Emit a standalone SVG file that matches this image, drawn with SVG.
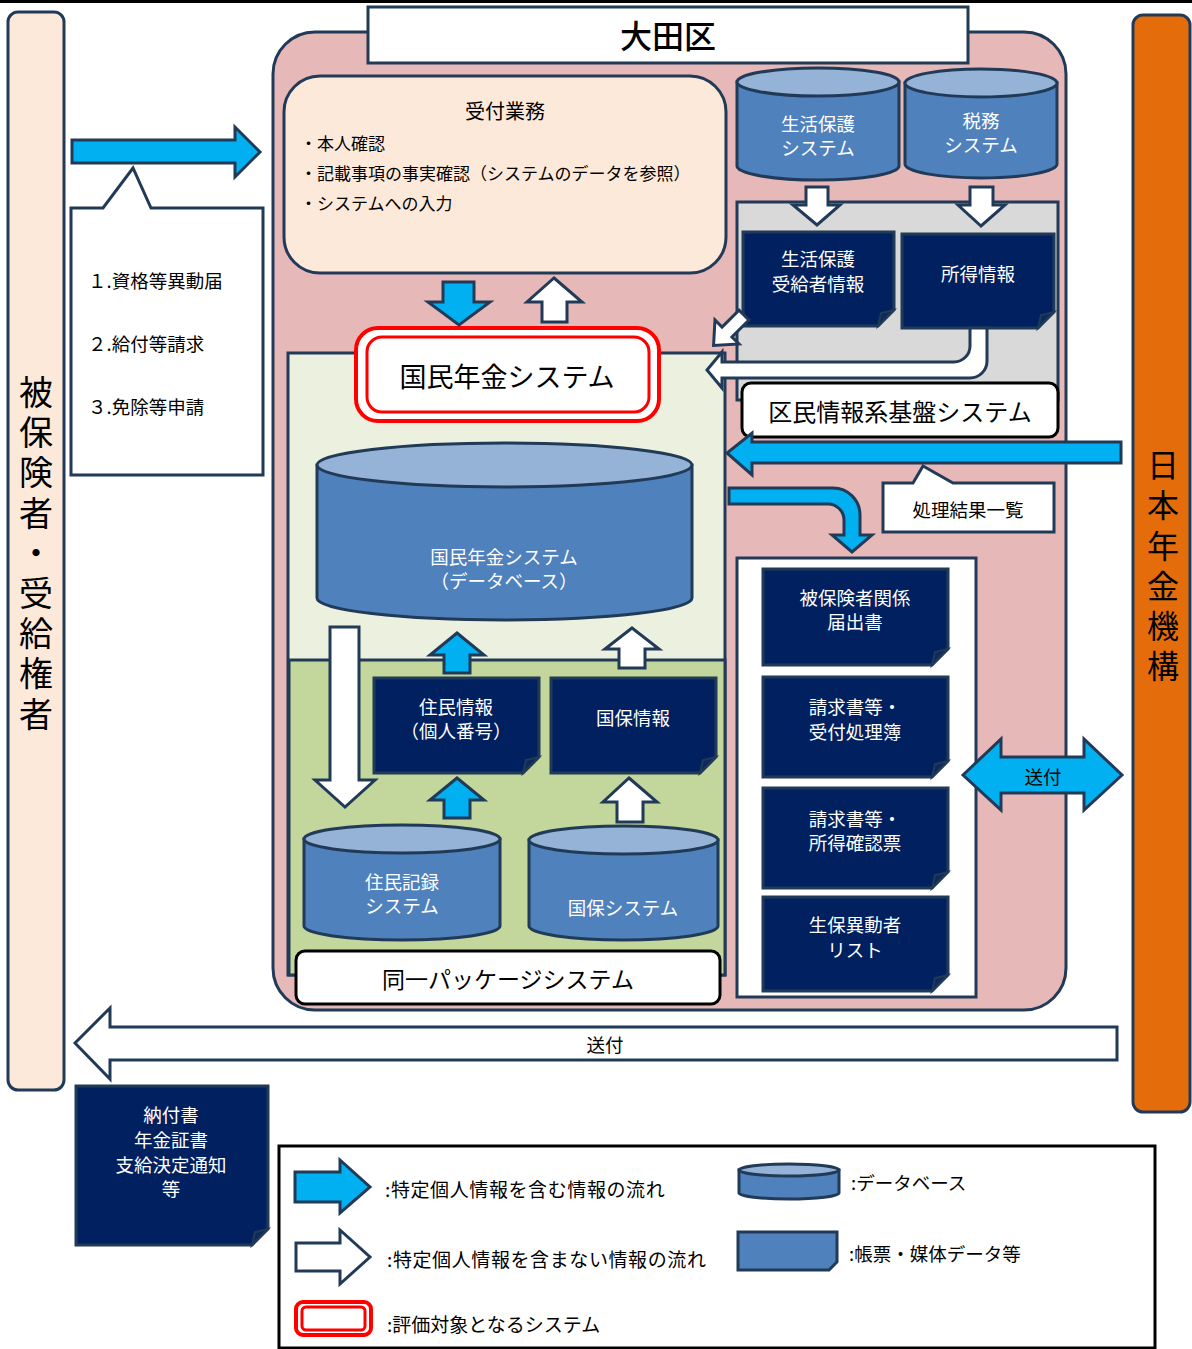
<svg xmlns="http://www.w3.org/2000/svg" width="1192" height="1349" viewBox="0 0 1192 1349">
<defs>
<style>
text{font-family:"Noto Sans CJK JP","Liberation Sans",sans-serif;dominant-baseline:central}
.c{text-anchor:middle}
.w{fill:#fff}
.k{fill:#000}
.vt{writing-mode:vertical-rl;text-orientation:upright}
.ln{stroke:#213A57;stroke-width:3}
.blue{fill:#00B0F0;stroke:#213A57;stroke-width:3;stroke-linejoin:miter}
.wh{fill:#fff;stroke:#213A57;stroke-width:3}
.doc{fill:#002060;stroke:#213A57;stroke-width:3}
.fold{fill:#0E2A5C;stroke:#213A57;stroke-width:2}
.cyl{fill:#4F81BD;stroke:#213A57;stroke-width:3}
.cyt{fill:#95B3D7;stroke:#213A57;stroke-width:3}
.lbl{fill:#fff;stroke:#000;stroke-width:3}
</style>
</defs>
<rect x="0" y="0" width="1192" height="3" fill="#000"/>

<g id="insured">
<rect x="8" y="12" width="56" height="1078" rx="10" fill="#FDE9D9" class="ln"/>
<text class="k vt" font-size="34" letter-spacing="6.2" x="36" y="375">被保険者・受給権者</text>
</g>

<g id="jpn">
<rect x="1133" y="15" width="57" height="1097" rx="10" fill="#E46C0A" class="ln"/>
<text class="k vt" font-size="32" letter-spacing="8.2" x="1163" y="449">日本年金機構</text>
</g>

<g id="ota">
<rect x="273" y="32" width="793" height="978" rx="42" fill="#E6B9B8" class="ln"/>
<rect x="368" y="7" width="600" height="56" fill="#fff" class="ln"/>
<text class="c k" font-size="32" font-weight="500" x="668" y="34">大田区</text>
</g>

<g id="uketsuke">
<rect x="284" y="76" width="442" height="197" rx="36" fill="#FDE9D9" class="ln"/>
<text class="c k" font-size="20" x="505" y="110">受付業務</text>
<text class="k" font-size="17" x="300" y="142">・本人確認</text>
<text class="k" font-size="17" x="300" y="172">・記載事項の事実確認（システムのデータを参照）</text>
<text class="k" font-size="17" x="300" y="202">・システムへの入力</text>
</g>

<g id="forms-callout">
<path d="M71 208H103L133 168L151 208H263V475H71Z" fill="#fff" class="ln"/>
<text class="k" font-size="18.5" x="88" y="280">１.資格等異動届</text>
<text class="k" font-size="18.5" x="88" y="343">２.給付等請求</text>
<text class="k" font-size="18.5" x="88" y="406">３.免除等申請</text>
</g>

<g id="kumin">
<rect x="737" y="202" width="321" height="198" fill="#D9D9D9" class="ln"/>
</g>

<g id="db-seikatsu">
<path d="M737 82V166A81 14 0 0 0 899 166V82Z" class="cyl"/>
<ellipse cx="818" cy="82" rx="81" ry="14" class="cyt"/>
<text class="c w" font-size="18.5" x="818" y="123">生活保護</text>
<text class="c w" font-size="18.5" x="818" y="147">システム</text>
</g>
<g id="db-zeimu">
<path d="M905 83V164A76 14 0 0 0 1057 164V83Z" class="cyl"/>
<ellipse cx="981" cy="83" rx="76" ry="14" class="cyt"/>
<text class="c w" font-size="18.5" x="981" y="120">税務</text>
<text class="c w" font-size="18.5" x="981" y="144">システム</text>
</g>

<g id="doc-seiho">
<path d="M743 232H894V310L878 326H743Z" class="doc"/>
<path d="M878 326L881 313L894 310Z" class="fold"/>
<text class="c w" font-size="18.5" x="818" y="258">生活保護</text>
<text class="c w" font-size="18.5" x="818" y="283">受給者情報</text>
</g>
<g id="doc-shotoku">
<path d="M902 234H1054V312L1038 328H902Z" class="doc"/>
<path d="M1038 328L1041 315L1054 312Z" class="fold"/>
<text class="c w" font-size="18.5" x="978" y="273">所得情報</text>
</g>

<g id="nenkin-area">
<rect x="288" y="353" width="437" height="622" fill="#EBF1DE" class="ln"/>
<rect x="289" y="660" width="436" height="315" fill="#C3D69B" class="ln"/>
</g>

<g id="kokumin-nenkin">
<rect x="356" y="328" width="303" height="93" rx="22" fill="#fff" stroke="#FF0000" stroke-width="4"/>
<rect x="367" y="337" width="282" height="75" rx="15" fill="#fff" stroke="#FF0000" stroke-width="3"/>
<text class="c k" font-size="27" x="507" y="375">国民年金システム</text>
</g>

<g id="db-nenkin">
<path d="M317 465V598A187 22 0 0 0 692 598V465Z" class="cyl"/>
<ellipse cx="504.5" cy="465" rx="187.5" ry="22" class="cyt"/>
<text class="c w" font-size="18.5" x="504" y="556">国民年金システム</text>
<text class="c w" font-size="18.5" x="504" y="580">（データベース）</text>
</g>

<g id="doc-jumin">
<path d="M374 678H539V757L523 773H374Z" class="doc"/>
<path d="M523 773L526 760L539 757Z" class="fold"/>
<text class="c w" font-size="18.5" x="456" y="706">住民情報</text>
<text class="c w" font-size="18.5" x="456" y="730">（個人番号）</text>
</g>
<g id="doc-kokuho">
<path d="M551 678H716V757L700 773H551Z" class="doc"/>
<path d="M700 773L703 760L716 757Z" class="fold"/>
<text class="c w" font-size="18.5" x="633" y="717">国保情報</text>
</g>

<g id="db-jumin">
<path d="M304 839V926A98 14 0 0 0 500 926V839Z" class="cyl"/>
<ellipse cx="402" cy="839" rx="98" ry="14" class="cyt"/>
<text class="c w" font-size="18.5" x="402" y="881">住民記録</text>
<text class="c w" font-size="18.5" x="402" y="905">システム</text>
</g>
<g id="db-kokuho">
<path d="M529 840V926A94.5 14 0 0 0 718 926V840Z" class="cyl"/>
<ellipse cx="623.5" cy="840" rx="94.5" ry="14" class="cyt"/>
<text class="c w" font-size="18.5" x="623" y="907">国保システム</text>
</g>

<g id="package-label">
<rect x="296" y="951" width="424" height="53" rx="9" class="lbl"/>
<text class="c k" font-size="23" x="508" y="978">同一パッケージシステム</text>
</g>

<g id="docs-box">
<rect x="737" y="558" width="239" height="439" fill="#fff" class="ln"/>
</g>
<g id="doc-todoke">
<path d="M763 569H948V649L932 665H763Z" class="doc"/>
<path d="M932 665L935 652L948 649Z" class="fold"/>
<text class="c w" font-size="18.5" x="855" y="597">被保険者関係</text>
<text class="c w" font-size="18.5" x="855" y="621">届出書</text>
</g>
<g id="doc-uketsuke">
<path d="M763 677H948V761L932 777H763Z" class="doc"/>
<path d="M932 777L935 764L948 761Z" class="fold"/>
<text class="c w" font-size="18.5" x="855" y="706">請求書等・</text>
<text class="c w" font-size="18.5" x="855" y="731">受付処理簿</text>
</g>
<g id="doc-shotokukakunin">
<path d="M763 788H948V872L932 888H763Z" class="doc"/>
<path d="M932 888L935 875L948 872Z" class="fold"/>
<text class="c w" font-size="18.5" x="855" y="818">請求書等・</text>
<text class="c w" font-size="18.5" x="855" y="842">所得確認票</text>
</g>
<g id="doc-seiho-list">
<path d="M763 897H948V975L932 991H763Z" class="doc"/>
<path d="M932 991L935 978L948 975Z" class="fold"/>
<text class="c w" font-size="18.5" x="855" y="924">生保異動者</text>
<text class="c w" font-size="18.5" x="855" y="949">リスト</text>
</g>

<g id="kumin-label">
<rect x="742" y="383" width="316" height="54" rx="9" class="lbl"/>
<text class="c k" font-size="24" x="900" y="410">区民情報系基盤システム</text>
</g>

<g id="result-callout">
<path d="M883 483H913L923 466L953 483H1054V532H883Z" fill="#fff" class="ln"/>
<text class="c k" font-size="18.5" x="968" y="509">処理結果一覧</text>
</g>

<g id="nofu">
<path d="M76 1086H268V1229L252 1245H76Z" class="doc"/>
<path d="M252 1245L255 1232L268 1229Z" class="fold"/>
<text class="c w" font-size="18.5" x="171" y="1114">納付書</text>
<text class="c w" font-size="18.5" x="171" y="1139">年金証書</text>
<text class="c w" font-size="18.5" x="171" y="1164">支給決定通知</text>
<text class="c w" font-size="18.5" x="171" y="1188">等</text>
</g>

<g id="connectors">
<polygon points="72,140 235,140 235,127 260,152 235,177 235,163 72,163" class="blue"/>
<polygon points="443,282 474,282 474,302 490,302 459,325 428,302 443,302" class="blue"/>
<polygon points="554,278 582,302 567,302 567,322 542,322 542,302 527,302" class="wh"/>
<polygon points="806,187 828,187 828,205 840,205 817,225 793,205 806,205" class="wh"/>
<polygon points="970,187 993,187 993,205 1005,205 981,226 958,205 970,205" class="wh"/>
<path d="M970 328H987V361A17 17 0 0 1 970 378H722V388L707 370L722 352V362H954A16 16 0 0 0 970 346Z" class="wh"/>
<polygon points="-24,-7 0,-7 0,-17 19,0 0,17 0,7 -24,7" class="wh" transform="translate(727,332) rotate(135)"/>
<polygon points="1121,442 752,442 752,433 727,453 752,475 752,463 1121,463" class="blue"/>
<path d="M729 488H833A27 27 0 0 1 860 515V535H872L852 552L832 535H844V520A16 16 0 0 0 828 504H729Z" class="blue"/>
<polygon points="330,627 359,627 359,780 375,780 345,807 315,780 330,780" class="wh"/>
<polygon points="457,633 484,655 470,655 470,673 444,673 444,655 430,655" class="blue"/>
<polygon points="632,628 659,649 645,649 645,668 619,668 619,649 605,649" class="wh"/>
<polygon points="457,778 484,800 470,800 470,818 444,818 444,800 430,800" class="blue"/>
<polygon points="629,778 657,802 643,802 643,822 617,822 617,802 603,802" class="wh"/>
<polygon points="963,775 1001,739 1001,757 1084,757 1084,739 1122,775 1084,810 1084,793 1001,793 1001,810" class="blue"/>
<text class="c k" font-size="18.5" x="1043" y="776">送付</text>
<polygon points="75,1043 110,1008 110,1027 1117,1027 1117,1060 110,1060 110,1079" class="wh"/>
<text class="c k" font-size="18.5" x="605" y="1044">送付</text>
</g>

<g id="legend">
<rect x="279" y="1146" width="876" height="202" fill="#fff" stroke="#000" stroke-width="3"/>
<polygon points="295,1172 340,1172 340,1160 370,1187 340,1213 340,1202 295,1202" class="blue"/>
<text class="k" font-size="19" letter-spacing="0.6" x="385" y="1188">:特定個人情報を含む情報の流れ</text>
<polygon points="296,1243 340,1243 340,1230 370,1257 340,1284 340,1271 296,1271" class="wh"/>
<text class="k" font-size="19" letter-spacing="0.6" x="387" y="1258">:特定個人情報を含まない情報の流れ</text>
<rect x="296" y="1302" width="75" height="33" rx="7" fill="#fff" stroke="#FF0000" stroke-width="4"/>
<rect x="302" y="1307" width="63" height="23" rx="4" fill="#fff" stroke="#FF0000" stroke-width="3"/>
<text class="k" font-size="19" x="387" y="1323">:評価対象となるシステム</text>
<path d="M739 1170V1193A50 6 0 0 0 839 1193V1170Z" class="cyl"/>
<ellipse cx="789" cy="1170" rx="50" ry="6" class="cyt"/>
<text class="k" font-size="18.5" x="851" y="1182">:データベース</text>
<path d="M738 1232H837V1262L829 1270H738Z" fill="#4F81BD" class="ln"/>
<text class="k" font-size="18.5" x="849" y="1253">:帳票・媒体データ等</text>
</g>
</svg>
